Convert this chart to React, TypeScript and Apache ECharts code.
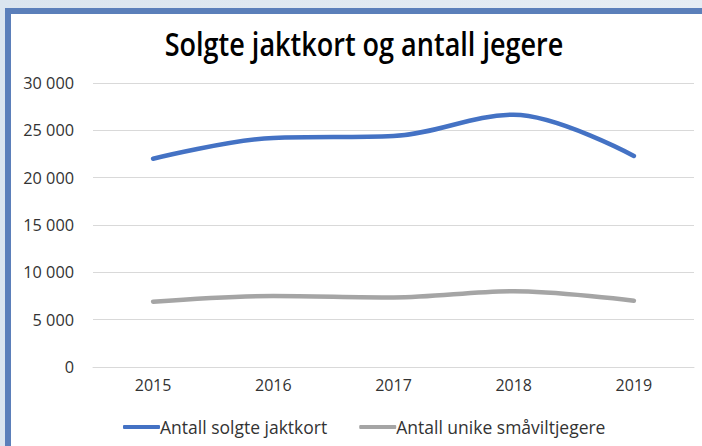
import React, { useEffect, useRef } from "react";
import * as echarts from "echarts";

const titleText = "Solgte jaktkort og antall jegere";
const years = ["2015", "2016", "2017", "2018", "2019"];
const solgteJaktkort = [22000, 24200, 24400, 26650, 22300];
const unikeSmaviltjegere = [6900, 7500, 7350, 8000, 7000];
const yTicks = [0, 5000, 10000, 15000, 20000, 25000, 30000];

const fmt = (v: number) => {
  const s = String(Math.round(v));
  return s.replace(/\B(?=(\d{3})+(?!\d))/g, " ");
};

export default function App() {
  const ref = useRef<HTMLDivElement>(null);
  useEffect(() => {
    document.body.style.margin = "0";
    const chart = echarts.init(ref.current!, undefined, { renderer: "svg" });
    const font = "'Open Sans', 'Noto Sans', sans-serif";
    chart.setOption({
      animation: false,
      graphic: [
        {
          type: "text",
          x: 364,
          y: 44,
          scaleX: 0.845,
          style: {
            text: titleText,
            fontFamily: font,
            fontSize: 32,
            fontWeight: 600,
            fill: "#000",
            align: "center",
            verticalAlign: "middle",
          },
        },
      ],
      grid: { left: 93, right: 8, top: 83, bottom: 79, containLabel: false },
      xAxis: {
        type: "category",
        data: years,
        boundaryGap: true,
        axisLine: { show: true, lineStyle: { color: "#d9d9d9", width: 1 } },
        axisTick: { show: false },
        axisLabel: { fontFamily: font, fontSize: 16, color: "#333", margin: 10 },
      },
      yAxis: {
        type: "value",
        min: yTicks[0],
        max: yTicks[yTicks.length - 1],
        interval: 5000,
        axisLine: { show: false },
        axisTick: { show: false },
        splitLine: { lineStyle: { color: "#d9d9d9", width: 1 } },
        axisLabel: { fontFamily: font, fontSize: 16.3, color: "#333", margin: 19, formatter: (v: number) => fmt(v) },
      },
      legend: {
        bottom: 10,
        left: 123,
        padding: 0,
        itemWidth: 37,
        itemHeight: 4,
        itemGap: 32,
        icon: "roundRect",
        textStyle: { fontFamily: font, fontSize: 17.5, color: "#333", padding: [0, 0, 0, -5] },
        data: ["Antall solgte jaktkort", "Antall unike småviltjegere"],
      },
      series: [
        {
          name: "Antall solgte jaktkort",
          type: "line",
          data: solgteJaktkort,
          smooth: 0.35,
          showSymbol: false,
          symbol: "none",
          lineStyle: { color: "#4472c4", width: 4.5, cap: "round" },
          itemStyle: { color: "#4472c4" },
        },
        {
          name: "Antall unike småviltjegere",
          type: "line",
          data: unikeSmaviltjegere,
          smooth: 0.35,
          showSymbol: false,
          symbol: "none",
          lineStyle: { color: "#a5a5a5", width: 4.5, cap: "round" },
          itemStyle: { color: "#a5a5a5" },
        },
      ],
    });
    return () => chart.dispose();
  }, []);

  return (
    <div style={{ position: "fixed", left: 0, top: 0, width: 702, height: 446, background: "linear-gradient(90deg, #dbe5ef, #e6edf4)", overflow: "hidden" }}>
      <div style={{ position: "absolute", left: 5, top: 8, right: 0, bottom: 0, borderLeft: "6px solid #5b7fba", borderTop: "6px solid #5b7fba", background: "#fff" }} />
      <div ref={ref} style={{ position: "absolute", left: 0, top: 0, width: 702, height: 446 }} />
    </div>
  );
}
